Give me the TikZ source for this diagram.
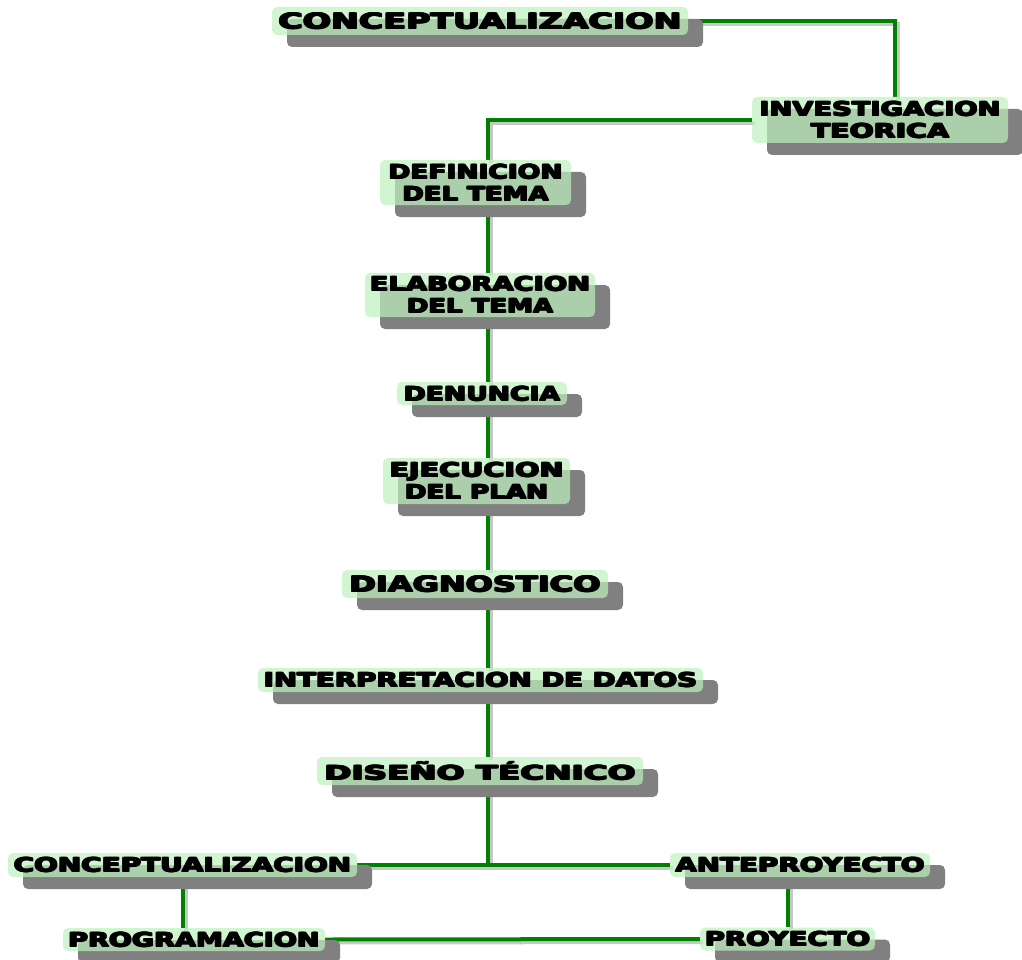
\documentclass[tikz,border=0pt]{standalone}
\usepackage{fontspec}
\usepackage{graphicx}
\usetikzlibrary{shadows,backgrounds}
\newfontfamily\lblf{DejaVu Sans}
\newcommand\heavy[1]{\rlap{#1}\rlap{\raisebox{0.9pt}{#1}}\rlap{\hspace{0.6pt}\raisebox{0.45pt}{#1}}\rlap{\hspace{1.2pt}\raisebox{0.9pt}{#1}}\hspace{1.2pt}#1}
\newcommand\lb[2]{\resizebox{#1pt}{\height}{\heavy{#2}}}
\newcommand\link[1]{\draw[cshadow] #1; \draw[conn] #1;}
\definecolor{boxgreen}{RGB}{190,240,190}
\definecolor{linegreen}{RGB}{0,130,0}
\tikzset{
  box/.style={draw=none, fill=boxgreen, fill opacity=0.7, text opacity=1,
    rounded corners=5pt, inner sep=0pt, align=center,
    drop shadow={shadow xshift=15pt, shadow yshift=-12pt, fill=black!50, opacity=1},
    font=\lblf\bfseries\fontsize{19.5}{22}\selectfont},
  big/.style={font=\lblf\bfseries\fontsize{21.5}{22}\selectfont},
  sz/.style 2 args={minimum width=#1pt, minimum height=#2pt},
  conn/.style={line width=4pt, draw=linegreen},
  cshadow/.style={line width=4pt, draw=black!22, transform canvas={xshift=3pt, yshift=-3pt}},
}
\begin{document}
\begin{tikzpicture}[x=1pt, y=-1pt]
\useasboundingbox (0,0) rectangle (1022,960);
\coordinate (X) at (488,0);
\coordinate (invx) at (895,0);

\node[box, big, sz={416}{28}] (c1) at (480,21) {\lb{405}{CONCEPTUALIZACION}};
\node[box, sz={256}{46}] (inv) at (880,120) {\lb{243}{INVESTIGACION}\\\lb{140}{TEORICA}};
\node[box, sz={191}{45}] (def) at (475.5,182.5) {\lb{176}{DEFINICION}\\\lb{148}{DEL TEMA}};
\node[box, sz={230}{44}] (ela) at (480,295) {\lb{222}{ELABORACION}\\\lb{148}{DEL TEMA}};
\node[box, sz={170}{23}] (den) at (482,393.5) {\lb{158}{DENUNCIA}};
\node[box, sz={187}{46}] (eje) at (476.5,481) {\lb{176}{EJECUCION}\\\lb{145}{DEL PLAN}};
\node[box, big, sz={266}{28}] (dia) at (475,584) {\lb{253}{DIAGNOSTICO}};
\node[box, sz={445}{24}] (int) at (480.5,680) {\lb{435}{INTERPRETACION DE DATOS}};
\node[box, sz={326}{28}] (dis) at (480,771) {\lb{313}{DISEÑO TÉCNICO}};
\node[box, sz={349}{24}] (c2) at (182.5,865) {\lb{339}{CONCEPTUALIZACION}};
\node[box, sz={260}{24}] (ante) at (800,865) {\lb{251}{ANTEPROYECTO}};
\node[box, sz={262}{23}] (prog) at (194,939.5) {\lb{253}{PROGRAMACION}};
\node[box, sz={175}{23}] (proy) at (787.5,939) {\lb{167}{PROYECTO}};

\begin{scope}[on background layer]
\link{(c1.east) -- (c1.east -| invx) -- (invx |- inv.north)}
\link{(inv.west) -- (inv.west -| X) -- (X |- def.north)}
\link{(def.south -| X) -- (X |- ela.north)}
\link{(ela.south -| X) -- (X |- den.north)}
\link{(den.south -| X) -- (X |- eje.north)}
\link{(eje.south -| X) -- (X |- dia.north)}
\link{(dia.south -| X) -- (X |- int.north)}
\link{(int.south -| X) -- (X |- dis.north)}
\link{(dis.south -| X) -- (X |- ante.west)}
\link{(c2.east) -- (ante.west)}
\link{(c2.south) -- (c2.south |- prog.north)}
\link{(proy.north) -- (proy.north |- ante.south)}
\link{(prog.east) -- (proy.west)}
\end{scope}
\end{tikzpicture}
\end{document}
